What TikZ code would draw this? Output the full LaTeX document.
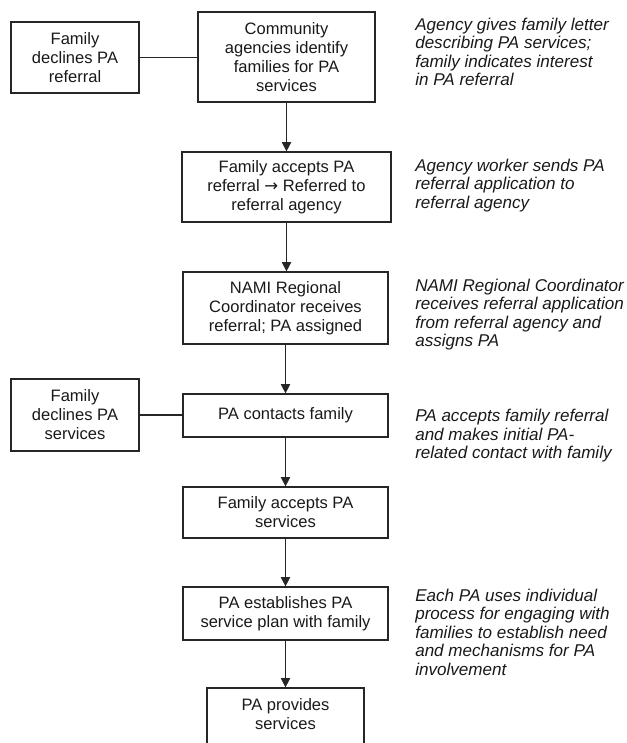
\documentclass[tikz,border=0pt]{standalone}
\usepackage{fontspec}
\setmainfont{Liberation Sans}
\newfontfamily\arrowfont{DejaVu Sans}
\usetikzlibrary{arrows.meta}
\begin{document}
\begin{tikzpicture}[x=0.75pt,y=-0.75pt,
  box/.style={draw=black!85, line width=0.9pt, inner sep=0pt, align=center,
    font=\fontsize{12.4}{14.3}\selectfont, text=black!90},
  btext/.style={inner sep=0pt, align=center, font=\fontsize{12.4}{14.3}\selectfont, text=black!90},
  note/.style={inner sep=0pt, align=left, anchor=base west,
    font=\fontsize{12.8}{13.875}\selectfont\itshape, text=black!90},
  link/.style={draw=black!85, line width=0.9pt},
  arr/.style={link, -{Triangle[length=7pt,width=7pt]}}]
\useasboundingbox (0,0) rectangle (627,743);
\clip (0,0) rectangle (627,743);

% main column
\node[box, minimum width=132.75pt, minimum height=67.5pt] (b1) at (286.5,57)
  {Community\\agencies identify\\families for PA\\services};
\node[box, minimum width=156.75pt, minimum height=52.5pt] (b2) at (286.5,187)
  {Family accepts PA\\referral {\arrowfont\fontsize{12.4}{14.3}\selectfont →} Referred to\\referral agency};
\node[box, minimum width=153.75pt, minimum height=54pt] (b3) at (285.5,308)
  {NAMI Regional\\Coordinator receives\\referral; PA assigned};
\node[box, minimum width=153.75pt, minimum height=32.25pt] (b4) at (285.5,415.5)
  {PA contacts family};
\node[box, minimum width=153.75pt, minimum height=38.25pt] (b5) at (285.5,512.5)
  {Family accepts PA\\services};
\node[box, minimum width=153.75pt, minimum height=39.75pt] (b6) at (285.5,613.5)
  {PA establishes PA\\service plan with family};
\node[box, minimum width=117.75pt, minimum height=46.5pt] (b7) at (285.5,719) {};
\node[btext] (b7t) at (285.5,714.5) {PA provides\\services};

% side boxes
\node[box, minimum width=96pt, minimum height=53.25pt] (s1) at (75,57.5)
  {Family\\declines PA\\referral};
\node[box, minimum width=96pt, minimum height=54pt] (s2) at (75,415)
  {Family\\declines PA\\services};

% connectors
\draw[arr] (b1.south) -- (b1.south |- b2.north);
\draw[arr] (b2.south) -- (b2.south |- b3.north);
\draw[arr] (b3.south) -- (b3.south |- b4.north);
\draw[arr] (b4.south) -- (b4.south |- b5.north);
\draw[arr] (b5.south) -- (b5.south |- b6.north);
\draw[arr] (b6.south) -- (b6.south |- b7.north);
\draw[link] (s1.east) -- (s1.east -| b1.west);
\draw[link] (s2.east) -- (s2.east -| b4.west);

% notes (anchored at the baseline of their last line)
\node[note] (n1) at (415,85.5)
  {Agency gives family letter\\describing PA services;\\family indicates interest\\in PA referral};
\node[note] (n2) at (415,208)
  {Agency worker sends PA\\referral application to\\referral agency};
\node[note] (n3) at (415,346.5)
  {NAMI Regional Coordinator\\receives referral application\\from referral agency and\\assigns PA};
\node[note] (n4) at (415,458.7)
  {PA accepts family referral\\and makes initial PA-\\related contact with family};
\node[note] (n5) at (415,675)
  {Each PA uses individual\\process for engaging with\\families to establish need\\and mechanisms for PA\\involvement};
\end{tikzpicture}
\end{document}
